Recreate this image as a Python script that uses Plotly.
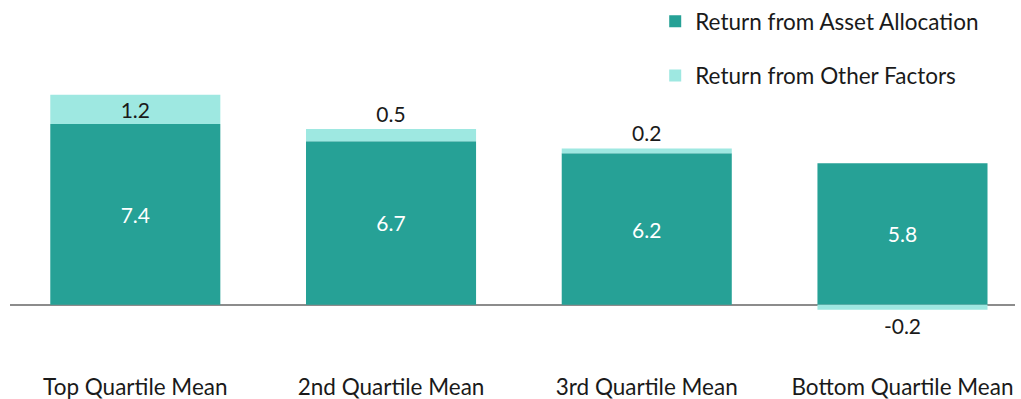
import plotly.graph_objects as go

categories = ["Top Quartile Mean", "2nd Quartile Mean", "3rd Quartile Mean", "Bottom Quartile Mean"]
asset_allocation = [7.4, 6.7, 6.2, 5.8]
other_factors = [1.2, 0.5, 0.2, -0.2]
series_names = ["Return from Asset Allocation", "Return from Other Factors"]

TEAL = "#26A196"
LIGHT = "#9EE8E1"
FONT = "Lato"
FS = 22.5
LFS = 21
INK = "#1a1a1a"

fig = go.Figure()
fig.add_trace(go.Bar(
    x=categories, y=asset_allocation, name=series_names[0],
    marker=dict(color=TEAL, line=dict(width=0)),
    width=0.665,
    text=[f"{v:.1f}" for v in asset_allocation],
    textposition="inside", insidetextanchor="middle",
    insidetextfont=dict(color="white", size=LFS, family=FONT),
    legendgroup="a", hoverinfo="skip",
))
fig.add_trace(go.Bar(
    x=categories, y=other_factors, name=series_names[1],
    marker=dict(color=LIGHT, line=dict(width=0)),
    width=0.665,
    text=[f"{v:.1f}" for v in other_factors],
    textposition=["inside", "outside", "outside", "outside"],
    insidetextanchor="middle",
    insidetextfont=dict(color=INK, size=LFS, family=FONT),
    outsidetextfont=dict(color=INK, size=LFS, family=FONT),
    cliponaxis=False, constraintext="none",
    legendgroup="b", hoverinfo="skip",
))

fig.update_layout(
    width=1021, height=399,
    barmode="relative",
    plot_bgcolor="white", paper_bgcolor="white",
    margin=dict(l=10, r=6, t=10, b=28, autoexpand=False),
    font=dict(family=FONT, size=FS, color=INK),
    showlegend=True,
    legend=dict(
        x=0.642, y=1.0, xanchor="left", yanchor="top", yref="container",
        traceorder="grouped", tracegroupgap=22,
        font=dict(size=FS, family=FONT, color=INK),
        bgcolor="rgba(0,0,0,0)", itemwidth=30,
    ),
    xaxis=dict(
        range=[-0.49, 3.44], showgrid=False, showline=False, ticks="",
        automargin=False,
        tickfont=dict(size=FS, family=FONT, color=INK),
    ),
    yaxis=dict(
        range=[-2.71, 12.07], showgrid=False, showticklabels=False, ticks="",
        automargin=False,
        zeroline=True, zerolinecolor="#8c8c8c", zerolinewidth=2,
    ),
)

fig.write_html("out.html")
